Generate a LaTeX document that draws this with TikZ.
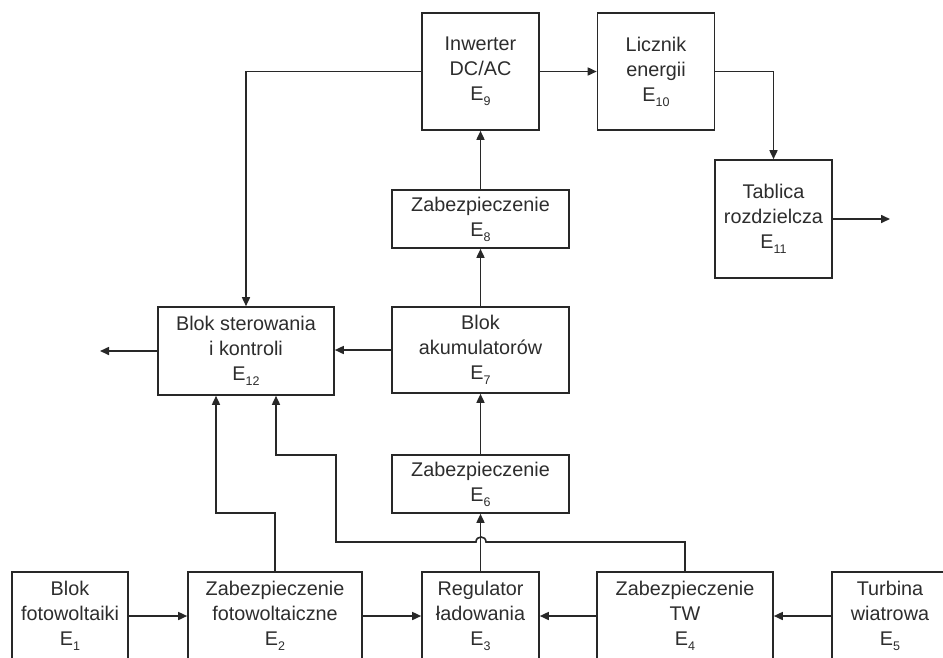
\documentclass[tikz,border=0pt]{standalone}
\usepackage{fontspec}
\setmainfont{Liberation Sans}
\usetikzlibrary{arrows.meta}
\definecolor{lncol}{RGB}{40,40,40}
\definecolor{txcol}{RGB}{45,45,45}
\newcommand{\Esub}[1]{E\raisebox{-5pt}{\fontsize{12.5}{12.5}\selectfont #1}}
\begin{document}
\begin{tikzpicture}[x=1pt,y=-1pt,
  blk/.style={draw=lncol, line width=1.6pt, align=center, inner sep=0pt, text=txcol,
    font=\fontsize{19.8}{25}\selectfont},
  wire/.style={draw=lncol, line width=1.6pt},
  arr/.style={wire, -{Triangle[length=9pt,width=8pt]}}]
\useasboundingbox (0,0) rectangle (943,657);
\clip (0,0) rectangle (943,657);
\fill[white] (0,0) rectangle (943,657);

% top row
\node[blk, minimum width=117pt, minimum height=117pt] (e9) at (480.5,71.5) {Inwerter\\DC/AC\\\Esub{9}};
\node[blk, minimum width=117pt, minimum height=117pt] (e10) at (656,71.5) {Licznik\\energii\\\Esub{10}};
\node[blk, minimum width=117pt, minimum height=118pt] (e11) at (773.5,219) {Tablica\\rozdzielcza\\\Esub{11}};
\node[blk, minimum width=177pt, minimum height=58pt] (e8) at (480.5,219) {Zabezpieczenie\\\Esub{8}};
\node[blk, minimum width=177pt, minimum height=86pt] (e7) at (480.5,350) {Blok\\akumulatorów\\\Esub{7}};
\node[blk, minimum width=176pt, minimum height=88pt] (e12) at (246,351) {Blok sterowania\\i kontroli\\\Esub{12}};
\node[blk, minimum width=177pt, minimum height=58pt] (e6) at (480.5,484) {Zabezpieczenie\\\Esub{6}};

% bottom row
\node[blk, minimum width=116pt, minimum height=88pt] (e1) at (70,616) {Blok\\fotowoltaiki\\\Esub{1}};
\node[blk, minimum width=174pt, minimum height=88pt] (e2) at (275,616) {Zabezpieczenie\\fotowoltaiczne\\\Esub{2}};
\node[blk, minimum width=117pt, minimum height=88pt] (e3) at (480.5,616) {Regulator\\ładowania\\\Esub{3}};
\node[blk, minimum width=176pt, minimum height=88pt] (e4) at (685,616) {Zabezpieczenie\\TW\\\Esub{4}};
\node[blk, minimum width=116pt, minimum height=88pt] (e5) at (890,616) {Turbina\\wiatrowa\\\Esub{5}};

% free ends and bends
\coordinate (o11) at (890,219);
\coordinate (o12) at (100,351);
\coordinate (k1) at (216,513);
\coordinate (h1) at (486,542);
\coordinate (h2) at (476,542);
\coordinate (k2) at (336,542);
\coordinate (k3) at (276,455);

% connectors
\draw[arr] (e9.west) -| (e12.north);
\draw[arr] (e9.east) -- (e10.west);
\draw[arr] (e10.east) -| (e11.north);
\draw[arr] (e11.east) -- (o11);
\draw[arr] (e8.north) -- (e9.south);
\draw[arr] (e7.north) -- (e8.south);
\draw[arr] (e6.north) -- (e7.south);
\draw[arr] (e3.north) -- (e6.south);
\draw[arr] (e7.west) -- (e7.west -| e12.east);
\draw[arr] (e12.west) -- (o12);
\draw[arr] (e1.east) -- (e2.west);
\draw[arr] (e2.east) -- (e3.west);
\draw[arr] (e4.west) -- (e3.east);
\draw[arr] (e5.west) -- (e4.east);
\draw[arr] (e2.north) |- (k1) -- (k1 |- e12.south);
\draw[arr] (e4.north) |- (h1) .. controls (486,535.3) and (476,535.3) .. (h2) -- (k2) |- (k3) -- (k3 |- e12.south);
\end{tikzpicture}
\end{document}
